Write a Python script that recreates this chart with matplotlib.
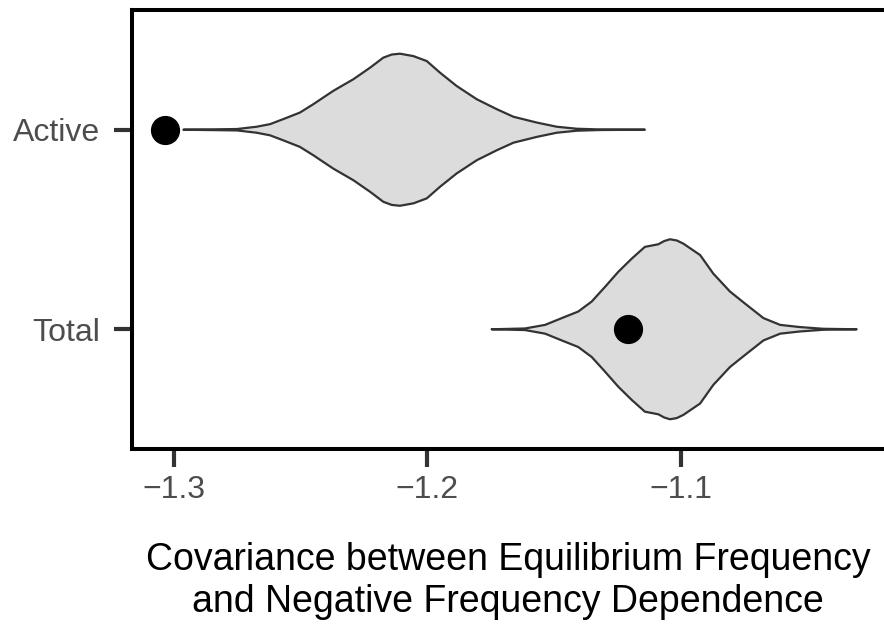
import matplotlib.pyplot as plt
import numpy as np

plt.rcParams['font.family'] = ['Liberation Sans', 'DejaVu Sans']

# categories (Total at y=1, Active at y=2)
groups = ['Total', 'Active']

# violin outlines: covariance value and half-width (density)
active_x = [-1.2963, -1.2752, -1.2674, -1.2621, -1.2569, -1.2503, -1.2450, -1.2371,
            -1.2292, -1.2226, -1.2174, -1.2140, -1.2108, -1.2055, -1.2002, -1.1950,
            -1.1884, -1.1805, -1.1726, -1.1660, -1.1568, -1.1489, -1.1410, -1.1318,
            -1.1141]
active_hw = [0.0, 0.0035, 0.015, 0.028, 0.053, 0.086, 0.128, 0.195,
             0.253, 0.311, 0.361, 0.377, 0.381, 0.369, 0.344, 0.286,
             0.219, 0.153, 0.103, 0.065, 0.036, 0.015, 0.005, 0.0015,
             0.0]

total_x = [-1.1746, -1.1614, -1.1535, -1.1469, -1.1404, -1.1351, -1.1298, -1.1246,
           -1.1193, -1.1141, -1.1088, -1.1065, -1.1042, -1.1015, -1.0989, -1.0923,
           -1.0871, -1.0805, -1.0739, -1.0673, -1.0607, -1.0529, -1.0437, -1.0305]
total_hw = [0.0, 0.004, 0.022, 0.056, 0.089, 0.139, 0.213, 0.288,
            0.354, 0.413, 0.426, 0.442, 0.451, 0.445, 0.429, 0.372,
            0.279, 0.189, 0.122, 0.056, 0.022, 0.011, 0.0025, 0.0]

# observed values (black dots)
observed = {'Active': -1.3037, 'Total': -1.1209}

fig = plt.figure(figsize=(8.84, 6.25), dpi=100)
ax = fig.add_axes([0.1493, 0.2816, 0.8507, 0.7024])

def violin(xs, hws, ypos):
    xs = np.asarray(xs)
    hws = np.asarray(hws)
    px = np.concatenate([xs, xs[::-1]])
    py = np.concatenate([ypos + hws, ypos - hws[::-1]])
    ax.fill(px, py, facecolor='#dcdcdc', edgecolor='#333333', linewidth=1.6,
            joinstyle='round', zorder=2)

violin(active_x, active_hw, 2)
violin(total_x, total_hw, 1)

ax.plot([observed['Active'], observed['Total']], [2, 1], 'o', color='black',
        markersize=20, linestyle='none', zorder=3)

ax.set_xlim(-1.3166, -1.0197)
ax.set_ylim(0.4, 2.6)
ax.set_yticks([1, 2])
ax.set_yticklabels(groups)
ax.set_xticks([-1.3, -1.2, -1.1])
ax.set_xticklabels(['\u22121.3', '\u22121.2', '\u22121.1'])

for side in ['left', 'bottom', 'top']:
    ax.spines[side].set_linewidth(2.9)
    ax.spines[side].set_color('black')
ax.spines['right'].set_visible(False)

ax.tick_params(axis='both', length=13, width=3, color='#333333',
               labelsize=23, labelcolor='#4d4d4d')
ax.tick_params(axis='y', pad=10)
ax.tick_params(axis='x', pad=6)

ax.set_xlabel('Covariance between Equilibrium Frequency\nand Negative Frequency Dependence',
              fontsize=27, color='black', labelpad=26, linespacing=1.25)

fig.savefig('out.png', dpi=100)
